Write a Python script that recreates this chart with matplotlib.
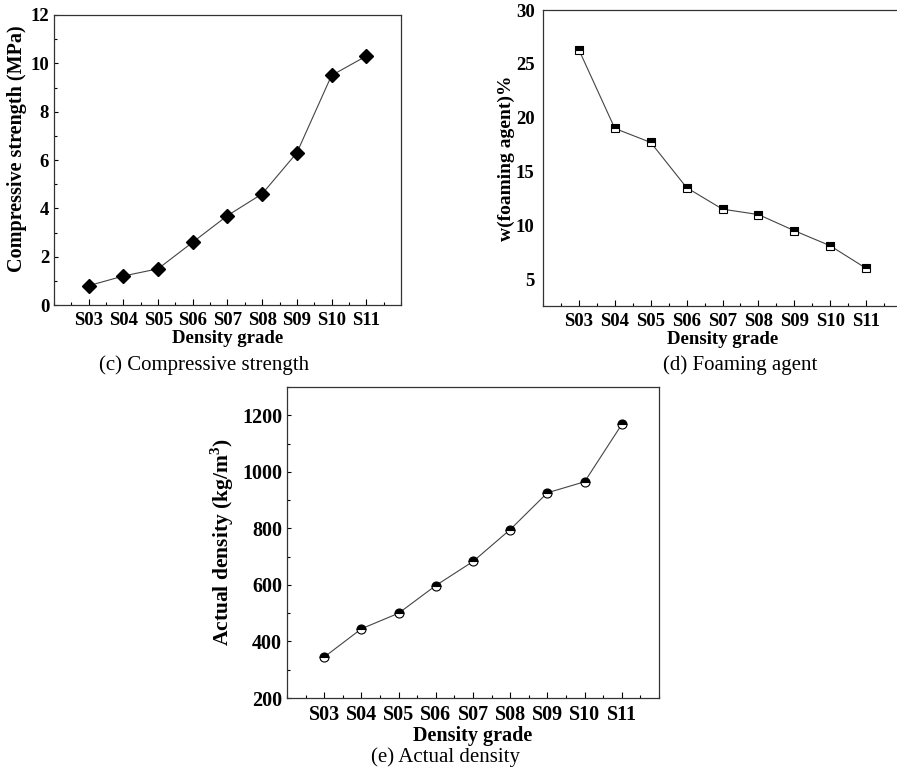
import matplotlib
matplotlib.use("Agg")
import matplotlib.pyplot as plt
from matplotlib.ticker import MultipleLocator

plt.rcParams['font.family'] = ['Liberation Serif', 'DejaVu Serif']
plt.rcParams['mathtext.fontset'] = 'custom'
plt.rcParams['mathtext.rm'] = 'Liberation Serif:bold'
plt.rcParams['mathtext.bf'] = 'Liberation Serif:bold'

grades = ['S03', 'S04', 'S05', 'S06', 'S07', 'S08', 'S09', 'S10', 'S11']
strength = [0.8, 1.2, 1.5, 2.6, 3.7, 4.6, 6.3, 9.5, 10.3]
foaming = [26.3, 19.0, 17.7, 13.5, 11.5, 11.0, 9.5, 8.1, 6.0]
density = [345, 445, 500, 598, 683, 796, 926, 965, 1168]

x = list(range(1, len(grades) + 1))

fig = plt.figure(figsize=(8.97, 7.73), dpi=100)


def style(ax, fs=13.5, yticks=True):
    ax.set_xlim(0, 10)
    ax.set_xticks(x)
    ax.set_xticklabels(grades, fontsize=fs, fontweight='bold')
    ax.xaxis.set_minor_locator(MultipleLocator(0.5))
    ax.tick_params(axis='x', which='major', direction='in', length=4, width=0.8, pad=5)
    ax.tick_params(axis='x', which='minor', direction='in', length=2.5, width=0.8)
    if yticks:
        ax.tick_params(axis='y', which='major', direction='in', length=3, width=0.8, labelsize=fs)
        ax.tick_params(axis='y', which='minor', direction='in', length=2, width=0.8)
    else:
        ax.tick_params(axis='y', which='both', length=0, labelsize=fs, pad=6)
    for lab in ax.get_yticklabels():
        lab.set_fontweight('bold')
    ax.tick_params(top=False, right=False)
    for s in ax.spines.values():
        s.set_linewidth(0.9)
        s.set_color('#333333')
    ax.set_xlabel('Density grade', fontsize=fs, fontweight='bold', labelpad=1)


# (c) compressive strength
ax1 = fig.add_axes([0.0602, 0.6054, 0.3868, 0.3752])
ax1.plot(x, strength, color='#444444', lw=0.8, marker='D', ms=7,
         mfc='black', mec='black')
ax1.set_ylim(0, 12)
ax1.yaxis.set_major_locator(MultipleLocator(2))
ax1.yaxis.set_minor_locator(MultipleLocator(1))
style(ax1)
ax1.set_ylabel('Compressive strength (MPa)', fontsize=14.5, fontweight='bold')
ax1.yaxis.set_label_coords(-0.078, 0.54)
fig.text(0.228, 0.527, '(c) Compressive strength', fontsize=15, ha='center', va='center')

# (d) foaming agent
ax2 = fig.add_axes([0.6054, 0.6041, 0.4002, 0.3829])
ax2.plot(x, foaming, color='#444444', lw=0.8, marker='s', ms=6,
         fillstyle='top', mfc='black', mfcalt='white', mec='black', mew=0.8)
ax2.set_ylim(2.5, 30)
ax2.yaxis.set_major_locator(MultipleLocator(5))
style(ax2, yticks=False)
ax2.set_ylabel('w(foaming agent)%', fontsize=14, fontweight='bold', labelpad=1)
fig.text(0.825, 0.527, '(d) Foaming agent', fontsize=15, ha='center', va='center')

# (e) actual density
ax3 = fig.add_axes([0.32, 0.0970, 0.4147, 0.4023])
ax3.plot(x, density, color='#444444', lw=0.8, marker='o', ms=6.5,
         fillstyle='top', mfc='black', mfcalt='white', mec='black', mew=0.8)
ax3.set_ylim(200, 1300)
ax3.yaxis.set_major_locator(MultipleLocator(200))
ax3.yaxis.set_minor_locator(MultipleLocator(100))
style(ax3, fs=14.5)
ax3.set_ylabel('Actual density (kg/m$^3$)', fontsize=15.5, fontweight='bold', labelpad=4)
fig.text(0.497, 0.02, '(e) Actual density', fontsize=15, ha='center', va='center')

fig.savefig('out.png', dpi=100)
